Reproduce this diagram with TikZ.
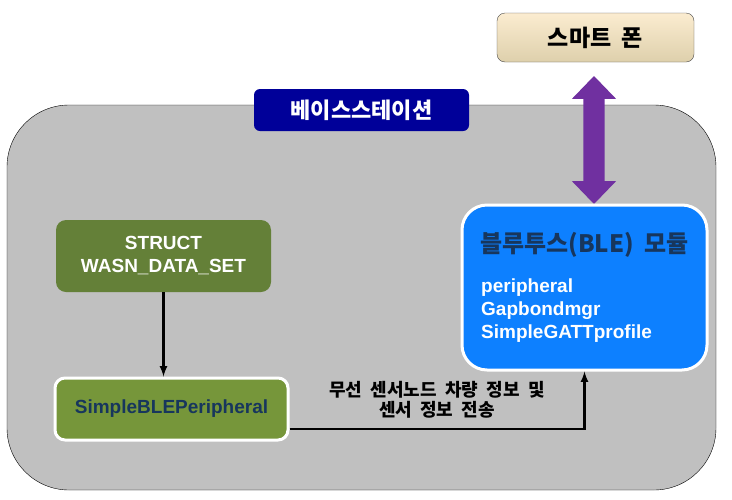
\documentclass[tikz,border=0pt]{standalone}
\usepackage{fontspec}
\usepackage{tikz}
\setmainfont{Liberation Sans}
\newfontfamily\kr{Noto Sans CJK KR}
\newfontfamily\krwide[WordSpace=2]{Noto Sans CJK KR}
\usetikzlibrary{calc}
\usetikzlibrary{arrows}
\usetikzlibrary{shapes.arrows}
\definecolor{stationgray}{RGB}{192,192,192}
\definecolor{labelblue}{RGB}{0,0,153}
\definecolor{phonetop}{RGB}{251,236,208}
\definecolor{phonebot}{RGB}{222,208,172}
\definecolor{structgreen}{RGB}{100,128,56}
\definecolor{bleGreen}{RGB}{118,150,58}
\definecolor{navytext}{RGB}{23,54,93}
\definecolor{moduleblue}{RGB}{13,128,255}
\definecolor{linkpurple}{RGB}{112,48,160}
\tikzstyle{every node}=[font=\bfseries]
\tikzstyle{greenbox}=[rounded corners=10pt, inner sep=0pt, align=center, font=\fontsize{19}{23}\selectfont\bfseries]

\begin{document}
\begin{tikzpicture}[>=latex, x=1pt, y=-1pt]
        \useasboundingbox (0,0) rectangle (732,499);
        % base station frame
        \node (station) at (361.5,297.5) [draw=black, fill=stationgray, rounded corners=62pt, minimum width=709pt, minimum height=385pt, inner sep=0pt] {};
        \node (stationlabel) at (361.5,110) [fill=labelblue, rounded corners=6pt, minimum width=215pt, minimum height=42pt, text=white, font=\kr\fontsize{22}{22}\selectfont\bfseries] {베이스스테이션};
        % smart phone
        \node (phone) at (595.5,37.5) [draw=black!70, top color=phonetop, bottom color=phonebot, rounded corners=8pt, minimum width=197pt, minimum height=49pt, font=\kr\fontsize{23}{23}\selectfont\bfseries] {스마트 폰};
        \node (link) at (594,140) [shape=double arrow, rotate=90, fill=linkpurple, minimum height=128pt, minimum width=44pt, double arrow head extend=11.5pt, double arrow tip angle=88, inner xsep=0pt, inner ysep=10.5pt] {};
        % data blocks
        \node (struct) at (163.5,256) [greenbox, fill=structgreen, text=white, minimum width=215pt, minimum height=72pt] {STRUCT\\WASN\_DATA\_SET};
        \node (simple) at (171.5,409) [greenbox, fill=bleGreen, draw=white, line width=3pt, text=navytext, minimum width=233pt, minimum height=62pt] {SimpleBLEPeripheral};
        \node (module) at (584.5,287.5) [fill=moduleblue, draw=white, line width=3pt, rounded corners=25pt, minimum width=245pt, minimum height=165pt] {};
        \node (moduletitle) at (584.5,245) [text=navytext, font=\kr\fontsize{24}{24}\selectfont\bfseries] {블루투스(BLE) 모듈};
        \node (modulebody) at (481,311) [anchor=west, align=left, text=white, inner sep=0pt, font=\fontsize{19}{23}\selectfont\bfseries] {peripheral\\Gapbondmgr\\SimpleGATTprofile};
        \draw [->, line width=2.5pt] (struct.south) -- (struct.south |- simple.north);
        \draw [->, line width=2.5pt] ([yshift=-20pt]simple.east) -| (module.south);
        \node (sendlabel) at (437,400) [align=center, font=\krwide\fontsize{18}{20}\selectfont\bfseries] {무선 센서노드 차량 정보 및\\센서 정보 전송};
    \end{tikzpicture}
\end{document}
